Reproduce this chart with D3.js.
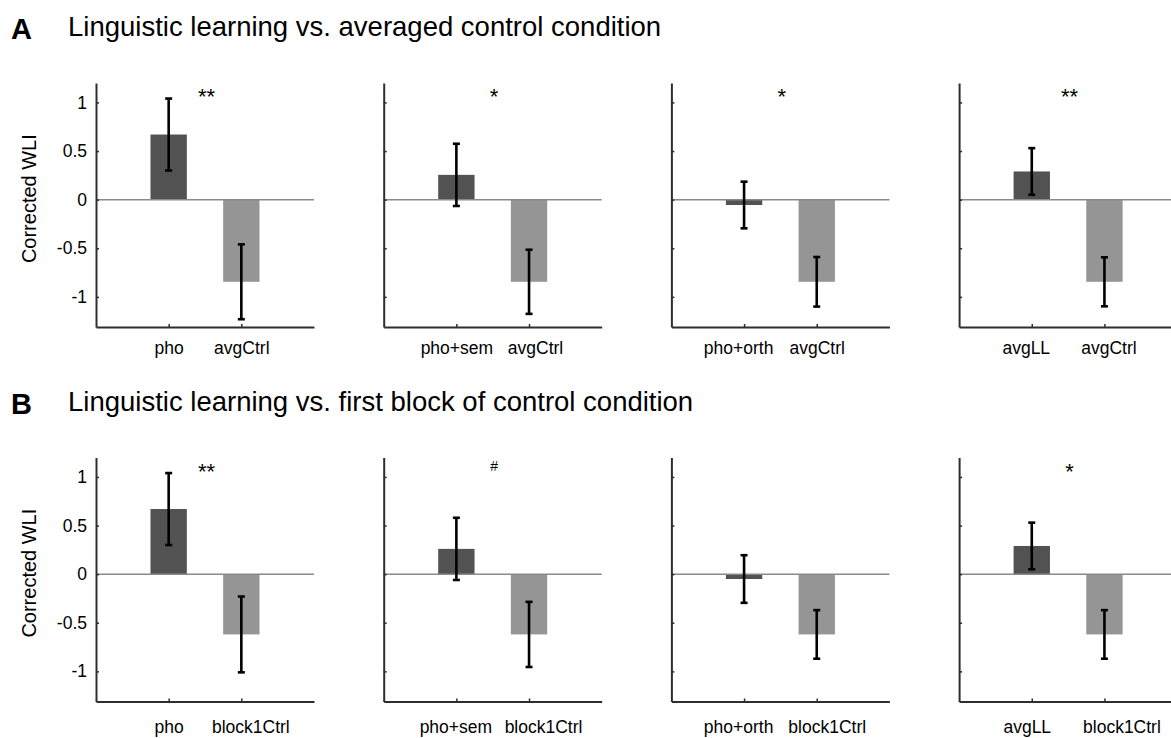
<!DOCTYPE html>
<html>
<head>
<meta charset="utf-8">
<script src="https://cdn.jsdelivr.net/npm/d3@7"></script>
<style>
  body { margin: 0; background: #fff; }
  svg { font-family: "Liberation Sans", Arial, sans-serif; display: block; }
</style>
</head>
<body>
<svg id="fig" width="1171" height="738"></svg>
<script>
// panel letters and row titles
var rowLetters = ["A", "B"];
var rowTitles = [
  "Linguistic learning vs. averaged control condition",
  "Linguistic learning vs. first block of control condition"
];

// row A: linguistic learning vs averaged control
var catsA = [["pho", "avgCtrl"], ["pho+sem", "avgCtrl"], ["pho+orth", "avgCtrl"], ["avgLL", "avgCtrl"]];
var valsA = [[0.67, -0.845], [0.255, -0.845], [-0.055, -0.845], [0.29, -0.845]];
var errsA = [[0.37, 0.385], [0.32, 0.33], [0.24, 0.255], [0.24, 0.252]];
var sigA = ["**", "*", "*", "**"];

// row B: linguistic learning vs first block of control
var catsB = [["pho", "block1Ctrl"], ["pho+sem", "block1Ctrl"], ["pho+orth", "block1Ctrl"], ["avgLL", "block1Ctrl"]];
var valsB = [[0.67, -0.62], [0.26, -0.62], [-0.05, -0.62], [0.29, -0.62]];
var errsB = [[0.37, 0.39], [0.32, 0.335], [0.245, 0.25], [0.24, 0.25]];
var sigB = ["**", "#", "", "*"];

var yTicks = [-1, -0.5, 0, 0.5, 1];
var yLabel = "Corrected WLI";

var rows = [
  { cats: catsA, vals: valsA, errs: errsA, sig: sigA },
  { cats: catsB, vals: valsB, errs: errsB, sig: sigB }
];

var svg = d3.select("#fig");
svg.append("rect").attr("width", 1171).attr("height", 738).attr("fill", "#fff");

var axW = 218, axH = 244;
var rowTop = [83, 457.5];
var labelPad = [15, 19];
// small hand nudges of the tick labels, as in the original figure
var labelNudge = [
  [[0, 0], [0, 6], [-6, 0], [-6, 4]],
  [[0, 9], [-1, 14], [-6, 10], [-5, 17]]
];
var barColors = ["#525252", "#959595"];

var x = d3.scaleLinear().domain([0, 3]).range([0, axW]);
var y = d3.scaleLinear().domain([-1.31, 1.2]).range([axH, 0]);

rows.forEach(function(row, r) {
  var top = rowTop[r];

  svg.append("text")
      .attr("x", 11)
      .attr("y", top - 44)
      .attr("font-size", 29)
      .attr("font-weight", "bold")
      .text(rowLetters[r]);
  svg.append("text")
      .attr("x", 68)
      .attr("y", top - 47)
      .attr("font-size", 27.5)
      .text(rowTitles[r]);

  row.cats.forEach(function(cats, p) {
    var g = svg.append("g")
        .attr("transform", "translate(" + (96 + p * 287.7) + "," + top + ")");

    var data = cats.map(function(c, i) {
      return { cat: c, pos: i + 1, v: row.vals[p][i], e: row.errs[p][i], color: barColors[i] };
    });

    g.selectAll(".bar")
      .data(data)
      .enter()
      .append("rect")
        .attr("class", "bar")
        .attr("x", d => x(d.pos - 0.25))
        .attr("width", x(0.5) - x(0))
        .attr("y", d => y(Math.max(0, d.v)))
        .attr("height", d => Math.abs(y(d.v) - y(0)))
        .attr("fill", d => d.color);

    // baseline at zero
    g.append("line")
        .attr("x1", 0).attr("x2", axW)
        .attr("y1", y(0)).attr("y2", y(0))
        .attr("stroke", "#8a8a8a")
        .attr("stroke-width", 1.5);

    // error bars
    var eb = g.selectAll(".err")
      .data(data)
      .enter()
      .append("g")
        .attr("class", "err")
        .attr("stroke", "#000")
        .attr("stroke-width", 2.6);
    eb.append("line")
        .attr("x1", d => x(d.pos)).attr("x2", d => x(d.pos))
        .attr("y1", d => y(d.v + d.e)).attr("y2", d => y(d.v - d.e));
    eb.append("line")
        .attr("x1", d => x(d.pos) - 3.5).attr("x2", d => x(d.pos) + 3.5)
        .attr("y1", d => y(d.v + d.e)).attr("y2", d => y(d.v + d.e));
    eb.append("line")
        .attr("x1", d => x(d.pos) - 3.5).attr("x2", d => x(d.pos) + 3.5)
        .attr("y1", d => y(d.v - d.e)).attr("y2", d => y(d.v - d.e));

    // axes
    var yAxis = d3.axisLeft(y)
        .tickValues(yTicks)
        .tickSizeInner(-3)
        .tickSizeOuter(0)
        .tickPadding(9)
        .tickFormat(p === 0 ? (d => String(d)) : () => "");
    var ya = g.append("g").call(yAxis);

    var xAxis = d3.axisBottom(x)
        .tickValues([1, 2])
        .tickSizeInner(-3)
        .tickSizeOuter(0)
        .tickPadding(labelPad[r])
        .tickFormat((d, i) => cats[i]);
    var xa = g.append("g")
        .attr("transform", "translate(0," + axH + ")")
        .call(xAxis);
    xa.selectAll(".tick text")
        .attr("dx", (d, i) => labelNudge[r][p][i]);

    [ya, xa].forEach(function(a) {
      a.select(".domain").attr("stroke", "#2e2e2e").attr("stroke-width", 2);
      a.selectAll(".tick line").attr("stroke", "#2e2e2e").attr("stroke-width", 1.5);
      a.selectAll(".tick text")
          .attr("fill", "#000")
          .attr("font-size", 17.5)
          .attr("font-family", "'Liberation Sans', Arial, sans-serif");
    });

    if (p === 0) {
      g.append("text")
          .attr("transform", "translate(-60," + (y(0) - 1) + ") rotate(-90)")
          .attr("text-anchor", "middle")
          .attr("font-size", 20)
          .text(yLabel);
    }

    var s = row.sig[p];
    if (s) {
      var star = s.indexOf("*") >= 0;
      g.append("text")
          .attr("x", x(1.52))
          .attr("y", y(1.11))
          .attr("dy", star ? "0.575em" : "0.36em")
          .attr("text-anchor", "middle")
          .attr("font-size", star ? 22 : 14)
          .text(s);
    }
  });
});
</script>
</body>
</html>
